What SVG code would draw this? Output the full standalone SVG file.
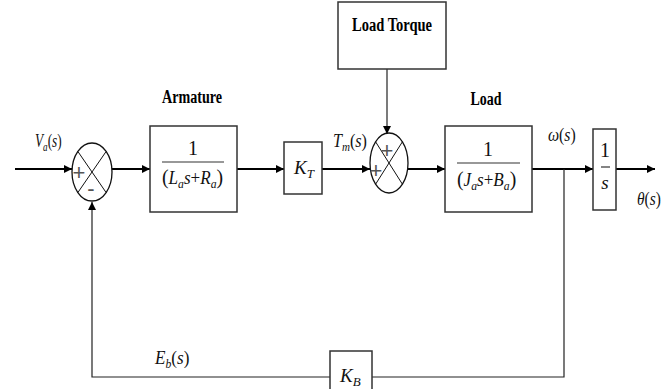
<svg xmlns="http://www.w3.org/2000/svg" width="670" height="389" viewBox="0 0 670 389">
<style>
.blk{fill:#fff;stroke:#333;stroke-width:1.5}
.sum{fill:#fff;stroke:#111;stroke-width:1.3}
.x{stroke:#111;stroke-width:1}
.w{stroke:#000;stroke-width:2;fill:none}
.t{stroke:#222;stroke-width:1.2;fill:none}
.lbl{font-family:"Liberation Serif",serif;font-weight:bold;font-size:18px;fill:#000}
.m{font-family:"Liberation Serif",serif;font-style:italic;font-size:19px;fill:#111}
.n{font-family:"Liberation Serif",serif;font-size:20px;fill:#111}
.sg{font-family:"Liberation Sans",sans-serif;font-size:22px;fill:#555}
.up{font-style:normal}
.sub{font-size:13px}
.par{font-style:normal;font-size:22px}
</style>
<defs>
<marker id="ah" viewBox="0 0 10 10" refX="10" refY="5" markerWidth="9" markerHeight="8" markerUnits="userSpaceOnUse" orient="auto">
<path d="M0,0 L10,5 L0,10 z" fill="#000"/>
</marker>
</defs>

<g id="connectors">
<line class="w" x1="15" y1="169" x2="72" y2="169" marker-end="url(#ah)"/>
<line class="w" x1="112" y1="169" x2="150" y2="169" marker-end="url(#ah)"/>
<line class="w" x1="237" y1="169" x2="284" y2="169" marker-end="url(#ah)"/>
<line class="w" x1="322" y1="169" x2="370" y2="169" marker-end="url(#ah)"/>
<line class="t" x1="387" y1="69" x2="387" y2="134" marker-end="url(#ah)"/>
<line class="w" x1="408" y1="169" x2="445" y2="169" marker-end="url(#ah)"/>
<line class="w" x1="532" y1="169" x2="593" y2="169" marker-end="url(#ah)"/>
<line class="w" x1="616" y1="169" x2="655" y2="169" marker-end="url(#ah)"/>
<polyline class="t" points="564,169 564,377 372,377"/>
<polyline class="t" points="330,377 92,377 92,202" marker-end="url(#ah)"/>
</g>

<g id="input-label">
<text class="m" transform="translate(35,147) scale(0.7,1)">V<tspan class="sub" dy="4">a</tspan><tspan class="up" dy="-4">(</tspan>s<tspan class="up">)</tspan></text>
</g>

<g id="sum1">
<ellipse class="sum" cx="92" cy="172" rx="20" ry="29"/>
<line class="x" x1="77.9" y1="151.5" x2="106.1" y2="192.5"/>
<line class="x" x1="106.1" y1="151.5" x2="77.9" y2="192.5"/>
<text class="sg" x="79" y="180" text-anchor="middle">+</text>
<text class="sg" x="91" y="196" text-anchor="middle">-</text>
</g>

<g id="armature">
<text class="lbl" x="192" y="103" text-anchor="middle" textLength="60" lengthAdjust="spacingAndGlyphs">Armature</text>
<rect class="blk" x="150" y="126" width="87" height="86"/>
<text class="n" x="193" y="155" text-anchor="middle">1</text>
<line stroke="#333" stroke-width="1.2" x1="162" y1="162" x2="224" y2="162"/>
<text class="m" transform="translate(162,184) scale(0.9,1)"><tspan class="par">(</tspan>L<tspan class="sub" dy="4">a</tspan><tspan dy="-4">s</tspan><tspan class="up">+</tspan>R<tspan class="sub" dy="4">a</tspan><tspan class="par" dy="-4">)</tspan></text>
</g>

<g id="kt">
<rect class="blk" x="284" y="142" width="38" height="52"/>
<text class="m" x="294" y="174">K<tspan class="sub" dy="4">T</tspan></text>
</g>

<g id="tm-label">
<text class="m" transform="translate(333,147) scale(0.85,1)">T<tspan class="sub" dy="4">m</tspan><tspan class="up" dy="-4">(</tspan>s<tspan class="up">)</tspan></text>
</g>

<g id="load-torque">
<rect class="blk" x="338" y="2" width="108" height="67"/>
<text class="lbl" x="392" y="31" text-anchor="middle" textLength="80" lengthAdjust="spacingAndGlyphs">Load Torque</text>
</g>

<g id="sum2">
<ellipse class="sum" cx="389" cy="163" rx="19" ry="30"/>
<line class="x" x1="375.6" y1="141.8" x2="402.4" y2="184.2"/>
<line class="x" x1="402.4" y1="141.8" x2="375.6" y2="184.2"/>
<text class="sg" x="387" y="158" text-anchor="middle">+</text>
<text class="sg" x="376" y="178" text-anchor="middle">+</text>
</g>

<g id="load">
<text class="lbl" x="486" y="105" text-anchor="middle" textLength="31" lengthAdjust="spacingAndGlyphs">Load</text>
<rect class="blk" x="445" y="126" width="87" height="86"/>
<text class="n" x="488" y="156" text-anchor="middle">1</text>
<line stroke="#333" stroke-width="1.2" x1="457" y1="163" x2="520" y2="163"/>
<text class="m" transform="translate(457,186) scale(0.9,1)"><tspan class="par">(</tspan>J<tspan class="sub" dy="4">a</tspan><tspan dy="-4">s</tspan><tspan class="up">+</tspan>B<tspan class="sub" dy="4">a</tspan><tspan class="par" dy="-4">)</tspan></text>
</g>

<g id="omega-label">
<text class="m" transform="translate(548,141) scale(0.83,1)">ω<tspan class="up">(</tspan>s<tspan class="up">)</tspan></text>
</g>

<g id="integrator">
<rect class="blk" x="593" y="129" width="23" height="81"/>
<text class="n" x="605" y="157" text-anchor="middle">1</text>
<line stroke="#333" stroke-width="1.2" x1="601" y1="167" x2="610" y2="167"/>
<text class="m" x="605" y="189" text-anchor="middle">s</text>
</g>

<g id="theta-label">
<text class="m" transform="translate(637,205) scale(0.81,1)">θ<tspan class="up">(</tspan>s<tspan class="up">)</tspan></text>
</g>

<g id="kb">
<rect class="blk" x="330" y="351" width="42" height="50"/>
<text class="m" x="340" y="382">K<tspan class="sub" dy="4">B</tspan></text>
</g>

<g id="eb-label">
<text class="m" transform="translate(155,364) scale(0.9,1)">E<tspan class="sub" dy="4">b</tspan><tspan class="up" dy="-4">(</tspan>s<tspan class="up">)</tspan></text>
</g>
</svg>
